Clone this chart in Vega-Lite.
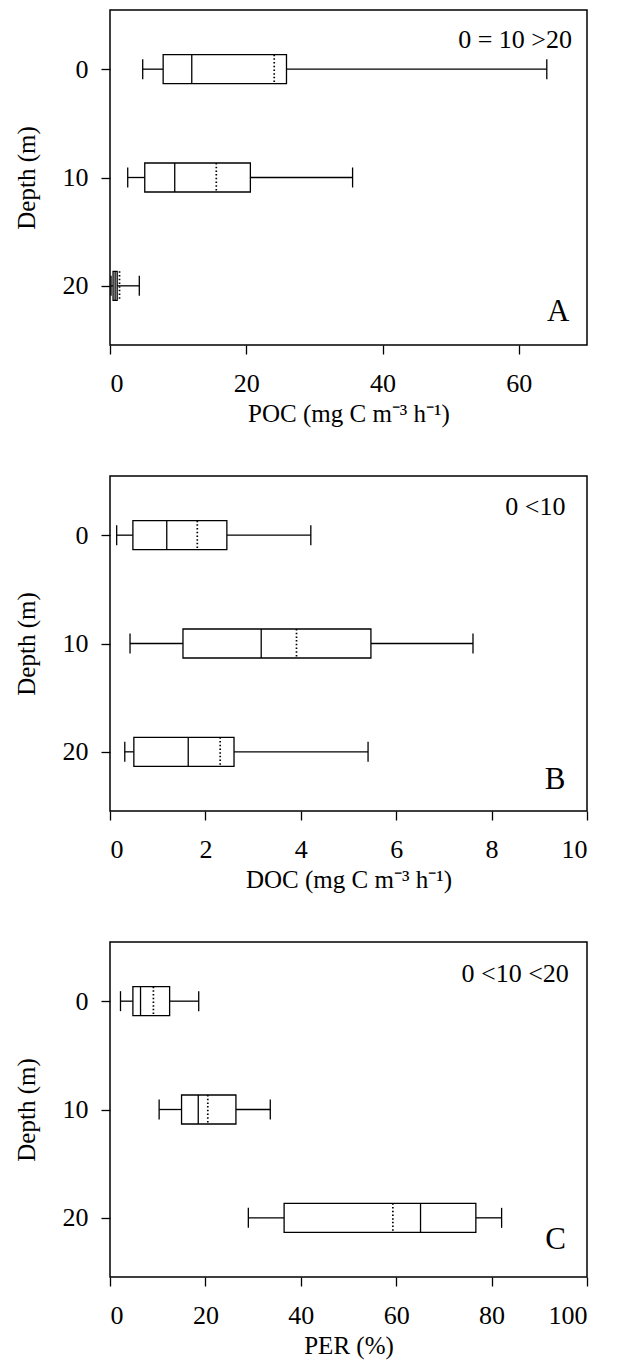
{
  "$schema": "https://vega.github.io/schema/vega-lite/v6.json",
  "background": "white",
  "padding": {"left": 13, "top": 9, "right": 5, "bottom": 5},
  "bounds": "flush",
  "spacing": 131,
  "config": {
    "font": "Liberation Serif",
    "view": {"stroke": "black", "strokeWidth": 1.5},
    "text": {"fontWeight": "normal", "font": "Liberation Serif", "fill": "black"},
    "axis": {
      "grid": false, "domain": false,
      "tickColor": "black", "tickSize": 9, "tickWidth": 1.3,
      "labelFont": "Liberation Serif", "labelFontSize": 26, "labelColor": "black",
      "titleFont": "Liberation Serif", "titleFontSize": 25, "titleFontWeight": "normal", "titleColor": "black"
    },
    "axisX": {"labelPadding": 16, "titlePadding": 5},
    "axisY": {"labelPadding": 13, "titlePadding": 23, "labelAngle": 0}
  },
  "datasets": {
    "poc": [
      {"depth": 0, "low": 4.8, "q1": 7.8, "median": 12.0, "mean": 24.1, "q3": 25.9, "high": 64.1},
      {"depth": 10, "low": 2.6, "q1": 5.1, "median": 9.5, "mean": 15.6, "q3": 20.6, "high": 35.6},
      {"depth": 20, "low": 0.15, "q1": 0.45, "median": 0.75, "mean": 1.4, "q3": 1.05, "high": 4.3}
    ],
    "doc": [
      {"depth": 0, "low": 0.14, "q1": 0.48, "median": 1.19, "mean": 1.83, "q3": 2.45, "high": 4.21},
      {"depth": 10, "low": 0.42, "q1": 1.53, "median": 3.17, "mean": 3.91, "q3": 5.47, "high": 7.61},
      {"depth": 20, "low": 0.31, "q1": 0.5, "median": 1.64, "mean": 2.31, "q3": 2.6, "high": 5.41}
    ],
    "per": [
      {"depth": 0, "low": 2.2, "q1": 4.8, "median": 6.4, "mean": 9.1, "q3": 12.5, "high": 18.6},
      {"depth": 10, "low": 10.3, "q1": 15.0, "median": 18.5, "mean": 20.5, "q3": 26.4, "high": 33.6},
      {"depth": 20, "low": 29.0, "q1": 36.5, "median": 65.1, "mean": 59.3, "q3": 76.7, "high": 82.1}
    ]
  },
  "vconcat": [
    {
      "width": 477, "height": 335,
      "data": {"name": "poc"},
      "layer": [
        {"mark": {"type": "rule", "color": "black", "strokeWidth": 1.3},
         "encoding": {
           "x": {"field": "low", "type": "quantitative", "scale": {"domain": [0, 70], "nice": false},
                 "axis": {"title": "POC (mg C m⁻³ h⁻¹)", "values": [0, 20, 40, 60], "format": "d"}},
           "x2": {"field": "q1"},
           "y": {"field": "depth", "type": "quantitative", "scale": {"domain": [-5, 25], "reverse": true, "nice": false, "zero": false},
                 "axis": {"title": "Depth (m)", "values": [0, 10, 20]}}}},
        {"mark": {"type": "rule", "color": "black", "strokeWidth": 1.3},
         "encoding": {"x": {"field": "q3", "type": "quantitative"}, "x2": {"field": "high"}, "y": {"field": "depth", "type": "quantitative"}}},
        {"mark": {"type": "bar", "orient": "horizontal", "size": 29, "fill": "white", "stroke": "black", "strokeWidth": 1.3},
         "encoding": {"x": {"field": "q1", "type": "quantitative"}, "x2": {"field": "q3"}, "y": {"field": "depth", "type": "quantitative"}}},
        {"mark": {"type": "point", "shape": "M0,-1L0,1", "size": 841, "filled": false, "stroke": "black", "strokeWidth": 1.3, "opacity": 1},
         "encoding": {"x": {"field": "median", "type": "quantitative"}, "y": {"field": "depth", "type": "quantitative"}}},
        {"mark": {"type": "point", "shape": "M0,-1L0,1", "size": 841, "filled": false, "stroke": "black", "strokeWidth": 1.7, "strokeDash": [1.5, 2.2], "opacity": 1},
         "encoding": {"x": {"field": "mean", "type": "quantitative"}, "y": {"field": "depth", "type": "quantitative"}}},
        {"mark": {"type": "point", "shape": "M0,-1L0,1", "size": 400, "filled": false, "stroke": "black", "strokeWidth": 1.3, "opacity": 1},
         "encoding": {"x": {"field": "low", "type": "quantitative"}, "y": {"field": "depth", "type": "quantitative"}}},
        {"mark": {"type": "point", "shape": "M0,-1L0,1", "size": 400, "filled": false, "stroke": "black", "strokeWidth": 1.3, "opacity": 1},
         "encoding": {"x": {"field": "high", "type": "quantitative"}, "y": {"field": "depth", "type": "quantitative"}}},
        {"data": {"values": [{"note": "0 = 10 >20"}]},
         "mark": {"type": "text", "align": "right", "baseline": "middle", "fontSize": 26},
         "encoding": {"text": {"field": "note"}, "x": {"datum": 67.8, "type": "quantitative"}, "y": {"datum": -2.7, "type": "quantitative"}}},
        {"data": {"values": [{"note": "A"}]},
         "mark": {"type": "text", "align": "right", "baseline": "middle", "fontSize": 31},
         "encoding": {"text": {"field": "note"}, "x": {"datum": 67.4, "type": "quantitative"}, "y": {"datum": 22.4, "type": "quantitative"}}}
      ]
    },
    {
      "width": 477, "height": 335,
      "data": {"name": "doc"},
      "layer": [
        {"mark": {"type": "rule", "color": "black", "strokeWidth": 1.3},
         "encoding": {
           "x": {"field": "low", "type": "quantitative", "scale": {"domain": [0, 10], "nice": false},
                 "axis": {"title": "DOC (mg C m⁻³ h⁻¹)", "values": [0, 2, 4, 6, 8, 10], "format": "d"}},
           "x2": {"field": "q1"},
           "y": {"field": "depth", "type": "quantitative", "scale": {"domain": [-5, 25], "reverse": true, "nice": false, "zero": false},
                 "axis": {"title": "Depth (m)", "values": [0, 10, 20]}}}},
        {"mark": {"type": "rule", "color": "black", "strokeWidth": 1.3},
         "encoding": {"x": {"field": "q3", "type": "quantitative"}, "x2": {"field": "high"}, "y": {"field": "depth", "type": "quantitative"}}},
        {"mark": {"type": "bar", "orient": "horizontal", "size": 29, "fill": "white", "stroke": "black", "strokeWidth": 1.3},
         "encoding": {"x": {"field": "q1", "type": "quantitative"}, "x2": {"field": "q3"}, "y": {"field": "depth", "type": "quantitative"}}},
        {"mark": {"type": "point", "shape": "M0,-1L0,1", "size": 841, "filled": false, "stroke": "black", "strokeWidth": 1.3, "opacity": 1},
         "encoding": {"x": {"field": "median", "type": "quantitative"}, "y": {"field": "depth", "type": "quantitative"}}},
        {"mark": {"type": "point", "shape": "M0,-1L0,1", "size": 841, "filled": false, "stroke": "black", "strokeWidth": 1.7, "strokeDash": [1.5, 2.2], "opacity": 1},
         "encoding": {"x": {"field": "mean", "type": "quantitative"}, "y": {"field": "depth", "type": "quantitative"}}},
        {"mark": {"type": "point", "shape": "M0,-1L0,1", "size": 400, "filled": false, "stroke": "black", "strokeWidth": 1.3, "opacity": 1},
         "encoding": {"x": {"field": "low", "type": "quantitative"}, "y": {"field": "depth", "type": "quantitative"}}},
        {"mark": {"type": "point", "shape": "M0,-1L0,1", "size": 400, "filled": false, "stroke": "black", "strokeWidth": 1.3, "opacity": 1},
         "encoding": {"x": {"field": "high", "type": "quantitative"}, "y": {"field": "depth", "type": "quantitative"}}},
        {"data": {"values": [{"note": "0 <10"}]},
         "mark": {"type": "text", "align": "right", "baseline": "middle", "fontSize": 26},
         "encoding": {"text": {"field": "note"}, "x": {"datum": 9.55, "type": "quantitative"}, "y": {"datum": -2.6, "type": "quantitative"}}},
        {"data": {"values": [{"note": "B"}]},
         "mark": {"type": "text", "align": "right", "baseline": "middle", "fontSize": 31},
         "encoding": {"text": {"field": "note"}, "x": {"datum": 9.55, "type": "quantitative"}, "y": {"datum": 22.6, "type": "quantitative"}}}
      ]
    },
    {
      "width": 477, "height": 335,
      "data": {"name": "per"},
      "layer": [
        {"mark": {"type": "rule", "color": "black", "strokeWidth": 1.3},
         "encoding": {
           "x": {"field": "low", "type": "quantitative", "scale": {"domain": [0, 100], "nice": false},
                 "axis": {"title": "PER (%)", "values": [0, 20, 40, 60, 80, 100], "format": "d"}},
           "x2": {"field": "q1"},
           "y": {"field": "depth", "type": "quantitative", "scale": {"domain": [-5, 25], "reverse": true, "nice": false, "zero": false},
                 "axis": {"title": "Depth (m)", "values": [0, 10, 20]}}}},
        {"mark": {"type": "rule", "color": "black", "strokeWidth": 1.3},
         "encoding": {"x": {"field": "q3", "type": "quantitative"}, "x2": {"field": "high"}, "y": {"field": "depth", "type": "quantitative"}}},
        {"mark": {"type": "bar", "orient": "horizontal", "size": 29, "fill": "white", "stroke": "black", "strokeWidth": 1.3},
         "encoding": {"x": {"field": "q1", "type": "quantitative"}, "x2": {"field": "q3"}, "y": {"field": "depth", "type": "quantitative"}}},
        {"mark": {"type": "point", "shape": "M0,-1L0,1", "size": 841, "filled": false, "stroke": "black", "strokeWidth": 1.3, "opacity": 1},
         "encoding": {"x": {"field": "median", "type": "quantitative"}, "y": {"field": "depth", "type": "quantitative"}}},
        {"mark": {"type": "point", "shape": "M0,-1L0,1", "size": 841, "filled": false, "stroke": "black", "strokeWidth": 1.7, "strokeDash": [1.5, 2.2], "opacity": 1},
         "encoding": {"x": {"field": "mean", "type": "quantitative"}, "y": {"field": "depth", "type": "quantitative"}}},
        {"mark": {"type": "point", "shape": "M0,-1L0,1", "size": 400, "filled": false, "stroke": "black", "strokeWidth": 1.3, "opacity": 1},
         "encoding": {"x": {"field": "low", "type": "quantitative"}, "y": {"field": "depth", "type": "quantitative"}}},
        {"mark": {"type": "point", "shape": "M0,-1L0,1", "size": 400, "filled": false, "stroke": "black", "strokeWidth": 1.3, "opacity": 1},
         "encoding": {"x": {"field": "high", "type": "quantitative"}, "y": {"field": "depth", "type": "quantitative"}}},
        {"data": {"values": [{"note": "0 <10 <20"}]},
         "mark": {"type": "text", "align": "right", "baseline": "middle", "fontSize": 26},
         "encoding": {"text": {"field": "note"}, "x": {"datum": 96.2, "type": "quantitative"}, "y": {"datum": -2.5, "type": "quantitative"}}},
        {"data": {"values": [{"note": "C"}]},
         "mark": {"type": "text", "align": "right", "baseline": "middle", "fontSize": 31},
         "encoding": {"text": {"field": "note"}, "x": {"datum": 95.6, "type": "quantitative"}, "y": {"datum": 22.0, "type": "quantitative"}}}
      ]
    }
  ]
}
